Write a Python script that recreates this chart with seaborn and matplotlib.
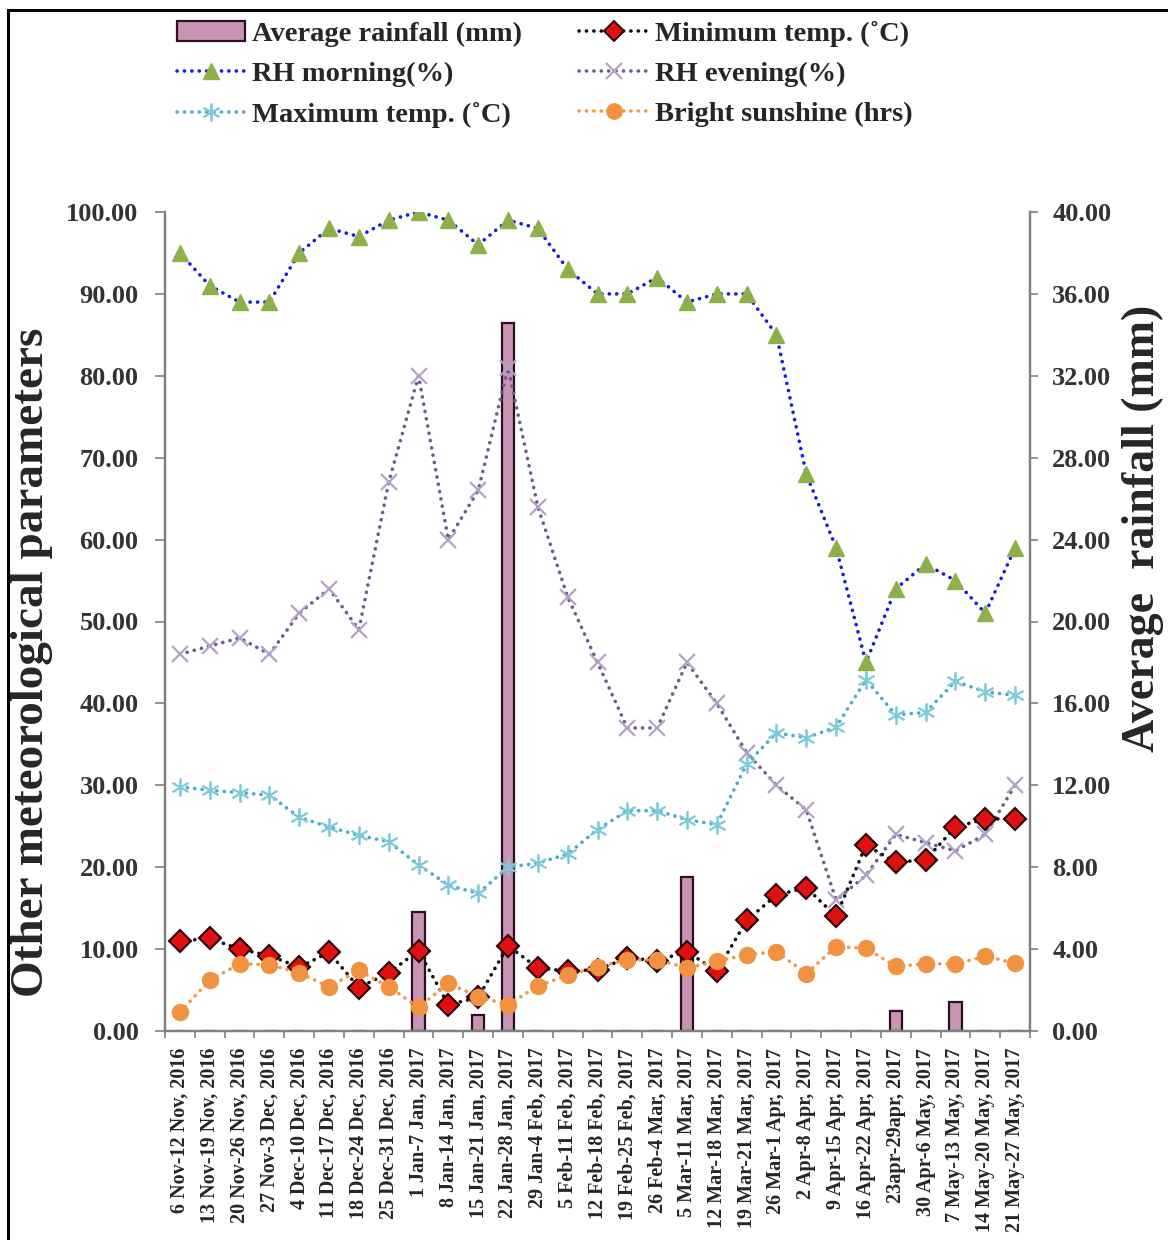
import numpy as np
import pandas as pd
import matplotlib
matplotlib.use("Agg")
import matplotlib.pyplot as plt
from matplotlib.lines import Line2D
from matplotlib.patches import Patch, Rectangle
import seaborn as sns

weeks = ["6 Nov-12 Nov, 2016", "13 Nov-19 Nov, 2016", "20 Nov-26 Nov, 2016",
         "27 Nov-3 Dec, 2016", "4 Dec-10 Dec, 2016", "11 Dec-17 Dec, 2016",
         "18 Dec-24 Dec, 2016", "25 Dec-31 Dec, 2016", "1 Jan-7 Jan, 2017",
         "8 Jan-14 Jan, 2017", "15 Jan-21 Jan, 2017", "22 Jan-28 Jan, 2017",
         "29 Jan-4 Feb, 2017", "5 Feb-11 Feb, 2017", "12 Feb-18 Feb, 2017",
         "19 Feb-25 Feb, 2017", "26 Feb-4 Mar, 2017", "5 Mar-11 Mar, 2017",
         "12 Mar-18 Mar, 2017", "19 Mar-21 Mar, 2017", "26 Mar-1 Apr, 2017",
         "2 Apr-8 Apr, 2017", "9 Apr-15 Apr, 2017", "16 Apr-22 Apr, 2017",
         "23apr-29apr, 2017", "30 Apr-6 May, 2017", "7 May-13 May, 2017",
         "14 May-20 May, 2017", "21 May-27 May, 2017"]

rainfall = [0, 0, 0, 0, 0, 0, 0, 0, 5.8, 0, 0.8, 34.6, 0, 0, 0, 0, 0, 7.5,
            0, 0, 0, 0, 0, 0, 1.0, 0, 1.4, 0, 0]
rh_morning = [95, 91, 89, 89, 95, 98, 97, 99, 100, 99, 96, 99, 98, 93, 90, 90,
              92, 89, 90, 90, 85, 68, 59, 45, 54, 57, 55, 51, 59]
rh_evening = [46, 47, 48, 46, 51, 54, 49, 67, 80, 60, 66, 81, 64, 53, 45, 37,
              37, 45, 40, 34, 30, 27, 16, 19, 24, 23, 22, 24, 30]
max_temp = [29.8, 29.4, 29.1, 28.8, 26.1, 24.9, 23.9, 23.1, 20.3, 17.8, 16.8,
            20.0, 20.5, 21.6, 24.6, 26.9, 26.9, 25.8, 25.2, 32.6, 36.4, 35.8,
            37.1, 42.9, 38.6, 38.9, 42.7, 41.4, 41.0]
min_temp = [11.0, 11.3, 10.0, 9.2, 7.8, 9.6, 5.3, 7.1, 9.8, 3.2, 4.1, 10.4,
            7.7, 7.3, 7.5, 8.9, 8.6, 9.7, 7.3, 13.5, 16.6, 17.5, 14.0, 22.7,
            20.6, 20.9, 24.9, 25.9, 25.9]
sunshine = [2.3, 6.2, 8.2, 8.1, 7.1, 5.4, 7.4, 5.4, 2.9, 5.8, 4.2, 3.2, 5.5,
            6.8, 7.8, 8.7, 8.7, 7.7, 8.5, 9.3, 9.7, 7.0, 10.3, 10.1, 7.9, 8.2,
            8.2, 9.1, 8.3]

left_ticks = [0, 10, 20, 30, 40, 50, 60, 70, 80, 90, 100]
right_ticks = [0, 4, 8, 12, 16, 20, 24, 28, 32, 36, 40]

sns.set_theme(style="white")
serif = ["Liberation Serif", "DejaVu Serif"]
plt.rcParams["font.family"] = serif
plt.rcParams["font.weight"] = "bold"

df = pd.DataFrame({"week": weeks, "pos": np.arange(len(weeks)),
                   "rain": rainfall, "rhm": rh_morning, "rhe": rh_evening,
                   "tmax": max_temp, "tmin": min_temp, "sun": sunshine})

fig = plt.figure(figsize=(11.68, 12.4), dpi=100)
ax = fig.add_axes([165 / 1168, 1 - 1031 / 1240, 865 / 1168, 819 / 1240])
ax2 = ax.twinx()

# rainfall bars on the right axis
sns.barplot(data=df, x="pos", y="rain", ax=ax2, color="#c994b4",
            width=0.42, edgecolor="#2a1020", linewidth=1.6, saturation=1)

ls = (0, (0.05, 2.0))
common = dict(linestyle=ls, dash_capstyle="round", linewidth=2.6)

series = [
    ("rhm", "#1a1ae6", "^", "#8db04a", "#8db04a", 11, 1.0),
    ("rhe", "#6b5e8c", "x", "#b3a2c7", "#b3a2c7", 12, 1.6),
    ("tmax", "#4bacc6", "*", "#4bacc6", "#4bacc6", 0, 0),
    ("tmin", "#111111", "D", "#e01010", "#2a0000", 11, 1.5),
    ("sun", "#f79646", "o", "#f0923f", "#f0923f", 11.5, 1.0),
]
for col, lc, mk, mfc, mec, ms, mew in series:
    if col == "tmax":
        sns.lineplot(data=df, x="pos", y=col, ax=ax, color=lc,
                     marker=(6, 2, 0), markersize=13, markeredgewidth=1.3,
                     markeredgecolor="#7fcadb", **common)
    else:
        sns.lineplot(data=df, x="pos", y=col, ax=ax, color=lc, marker=mk,
                     markersize=ms, markerfacecolor=mfc, markeredgecolor=mec,
                     markeredgewidth=mew, **common)

ax.set_zorder(ax2.get_zorder() + 1)
ax.patch.set_visible(False)

n = len(weeks)
ax.set_xlim(-0.5, n - 0.5)
ax.set_ylim(0, 100)
ax2.set_ylim(0, 40)

ax.set_yticks(left_ticks)
ax.set_yticklabels([f"{v:.2f}" for v in left_ticks], fontsize=19,
                   fontweight="bold", color="#333333")
ax2.set_yticks(right_ticks)
ax2.set_yticklabels([f"{v:.2f}" for v in right_ticks], fontsize=19,
                    fontweight="bold", color="#333333")

# x axis (shared by both axes): labels at centres, ticks at boundaries
ax.set_xticks(np.arange(n))
ax.set_xticklabels(weeks, rotation=90, fontsize=14.5, fontweight="bold",
                   va="top", ha="center")
ax.set_xticks(np.arange(n + 1) - 0.5, minor=True)
ax.tick_params(axis="x", which="major", length=0, pad=12, bottom=True)
ax.tick_params(axis="x", which="minor", length=5, width=1.2,
               color="#7f7f7f", direction="out", bottom=True)
ax.tick_params(axis="y", length=7, width=1.2, color="#7f7f7f", pad=12,
               direction="out", left=True)
ax2.tick_params(axis="y", length=6, width=1.2, color="#7f7f7f", pad=10,
                direction="out", right=True)

for a in (ax, ax2):
    a.set_xlabel("")
    a.set_ylabel("")
    for s in ("left", "right", "bottom"):
        a.spines[s].set_color("#7f7f7f")
        a.spines[s].set_linewidth(1.6)
    a.spines["top"].set_visible(False)
    a.grid(False)

fig.text(32 / 1168, 1 - 662 / 1240, "Other meteorological parameters",
         rotation=90, ha="center", va="center", fontsize=34,
         fontweight="bold", family=serif)
fig.text(1143 / 1168, 1 - 528 / 1240, "Average  rainfall (mm)",
         rotation=90, ha="center", va="center", fontsize=33,
         fontweight="bold", family=serif)

handles = [
    Patch(facecolor="#c994b4", edgecolor="#2a1020", linewidth=1.6),
    Line2D([], [], color="#1a1ae6", marker="^", markersize=11,
           markerfacecolor="#8db04a", markeredgecolor="#8db04a", **common),
    Line2D([], [], color="#4bacc6", marker=(6, 2, 0), markersize=13,
           markeredgewidth=1.3, markeredgecolor="#7fcadb", **common),
    Line2D([], [], color="#111111", marker="D", markersize=10,
           markerfacecolor="#e01010", markeredgecolor="#2a0000",
           markeredgewidth=1.4, **common),
    Line2D([], [], color="#6b5e8c", marker="x", markersize=12,
           markeredgecolor="#b3a2c7", markeredgewidth=1.6, **common),
    Line2D([], [], color="#f79646", marker="o", markersize=11,
           markerfacecolor="#f0923f", markeredgecolor="#f0923f", **common),
]
labels = ["Average rainfall (mm)", "RH morning(%)", "Maximum temp. (\u02daC)",
          "Minimum temp. (\u02daC)", "RH evening(%)",
          "Bright sunshine (hrs)"]
fig.legend(handles, labels, ncol=2, loc="upper left",
           bbox_to_anchor=(177 / 1168, 1 - 21 / 1240), frameon=False,
           prop={"family": serif, "weight": "bold", "size": 20.5},
           handlelength=2.4, handletextpad=0.25, columnspacing=2.0,
           labelspacing=0.5, borderaxespad=0, borderpad=0)

# outer frame of the picture
fig.patches.append(Rectangle((8 / 1168, -0.05), 1.2, 1 - 10 / 1240 + 0.05,
                             transform=fig.transFigure, fill=False,
                             edgecolor="black", linewidth=2.2))

fig.savefig("out.png", dpi=100)
